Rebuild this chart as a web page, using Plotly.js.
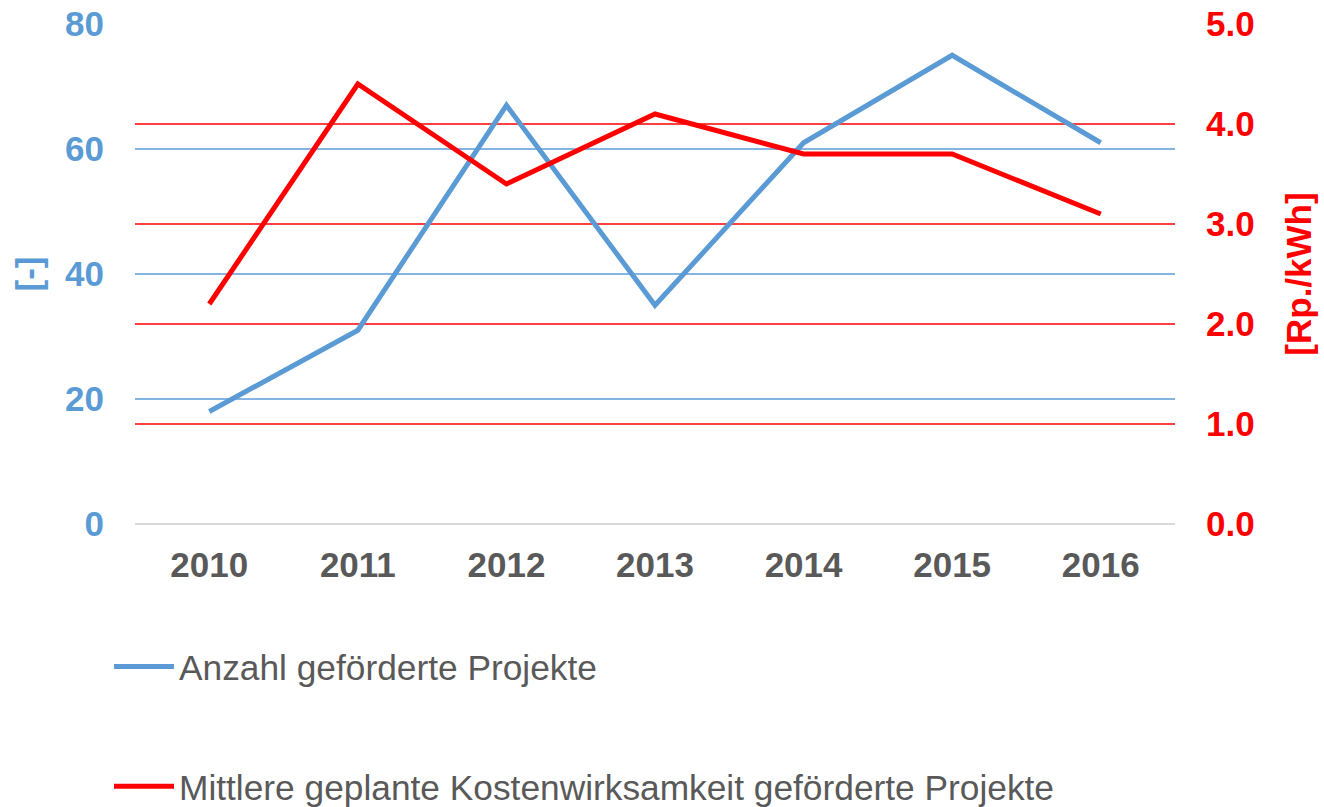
<!DOCTYPE html>
<html>
<head>
<meta charset="utf-8">
<script src="https://cdn.plot.ly/plotly-3.0.1.min.js"></script>
<style>html,body{margin:0;padding:0;background:#fff;}#chart{width:1324px;height:807px;}</style>
</head>
<body>
<div id="chart"></div>
<script>
const years = ['2010', '2011', '2012', '2013', '2014', '2015', '2016'];
const anzahlProjekte = [18, 31, 67, 35, 61, 75, 61];
const kostenwirksamkeit = [2.2, 4.4, 3.4, 4.1, 3.7, 3.7, 3.1];
const leftTicks = [0, 20, 40, 60, 80];
const rightTicks = [0, 1, 2, 3, 4, 5];
const rightTickLabels = ['0.0', '1.0', '2.0', '3.0', '4.0', '5.0'];
const seriesNames = ['Anzahl geförderte Projekte', 'Mittlere geplante Kostenwirksamkeit geförderte Projekte'];

const BLUE = '#5b9bd5';
const RED = '#ff0000';
const FONT = 'Liberation Sans, Arial, sans-serif';

const traces = [
  {
    x: years, y: anzahlProjekte, name: seriesNames[0], type: 'scatter', mode: 'lines',
    line: {color: BLUE, width: 5}, yaxis: 'y', legendgroup: 'a'
  },
  {
    x: years, y: kostenwirksamkeit, name: seriesNames[1], type: 'scatter', mode: 'lines',
    line: {color: RED, width: 5}, yaxis: 'y2', legendgroup: 'b'
  }
];

const layout = {
  width: 1324, height: 807,
  margin: {l: 135, r: 149, t: 24, b: 283, autoexpand: false},
  paper_bgcolor: '#ffffff', plot_bgcolor: '#ffffff',
  font: {family: FONT, size: 35, color: '#595959'},
  showlegend: true,
  xaxis: {
    type: 'category', range: [-0.5, 6.5],
    showgrid: false, showline: false, zeroline: false, ticks: '',
    tickfont: {family: FONT, size: 35, color: '#595959', weight: 'bold'},
    tickangle: 0,
    ticklabelstandoff: 17, fixedrange: true
  },
  yaxis: {
    range: [0, 80], tickvals: leftTicks, ticktext: leftTicks.map(String),
    showgrid: true, gridcolor: '#86b4e0', gridwidth: 1.3,
    zeroline: true, zerolinecolor: '#d9d9d9', zerolinewidth: 1.5,
    showline: false, ticks: '',
    tickfont: {family: FONT, size: 35, color: BLUE, weight: 'bold'},
    ticklabelstandoff: 30,
    title: {text: '[-]', font: {family: FONT, size: 35, color: BLUE, weight: 'bold'}, standoff: 12},
    fixedrange: true
  },
  yaxis2: {
    range: [0, 5], overlaying: 'y', side: 'right',
    tickvals: rightTicks, ticktext: rightTickLabels,
    showgrid: true, gridcolor: '#ff4040', gridwidth: 1.2,
    zeroline: false, showline: false, ticks: '',
    tickfont: {family: FONT, size: 35, color: RED, weight: 'bold'},
    ticklabelstandoff: 30,
    title: {text: '[Rp./kWh]', font: {family: FONT, size: 35, color: RED, weight: 'bold'}, standoff: 32},
    fixedrange: true
  },
  legend: {
    orientation: 'v', xref: 'paper', yref: 'paper',
    x: -0.025, y: -0.226, xanchor: 'left', yanchor: 'top',
    font: {family: FONT, size: 35.3, color: '#595959'},
    tracegroupgap: 71, itemwidth: 60, bgcolor: 'rgba(0,0,0,0)'
  }
};

Plotly.newPlot('chart', traces, layout, {displayModeBar: false, staticPlot: true});
</script>
</body>
</html>
